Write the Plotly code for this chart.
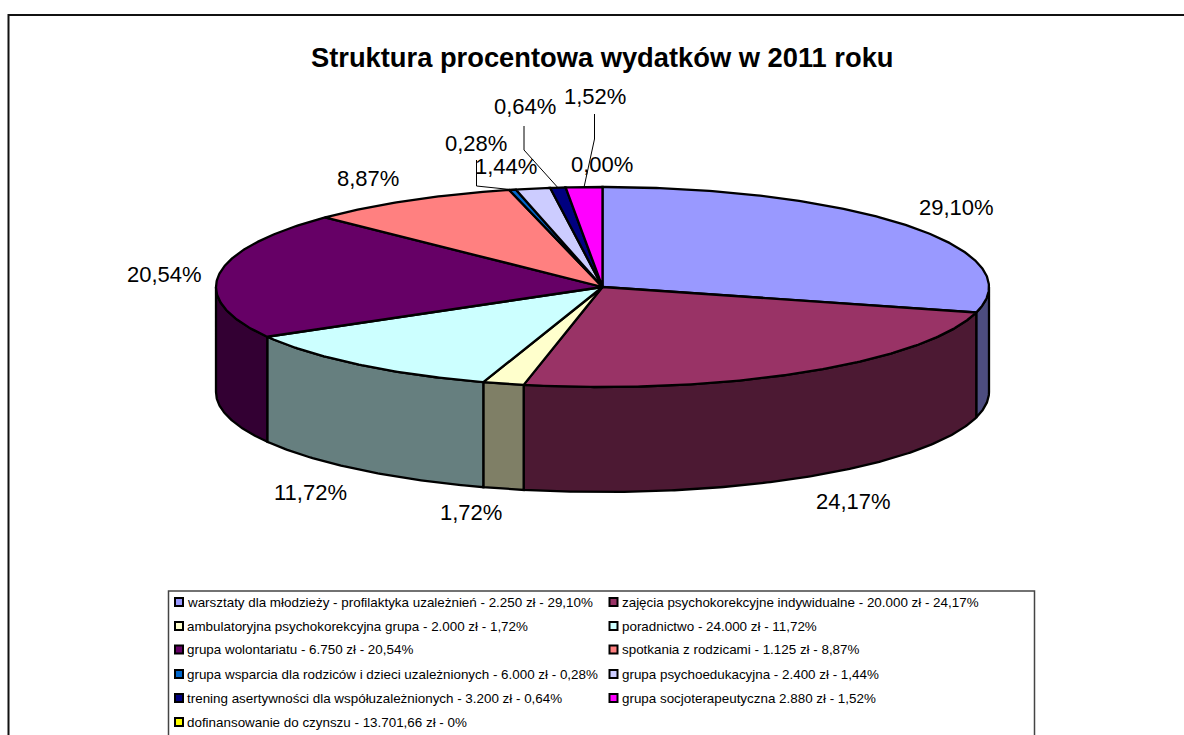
import math
import plotly.graph_objects as go

TITLE = "Struktura procentowa wydatków w 2011 roku"
shares = [29.10, 24.17, 1.72, 11.72, 20.54, 8.87, 0.28, 1.44, 0.64, 1.52, 0.00]
share_labels = ["29,10%", "24,17%", "1,72%", "11,72%", "20,54%", "8,87%", "0,28%", "1,44%", "0,64%", "1,52%", "0,00%"]
legend_labels = [
    "warsztaty dla młodzieży - profilaktyka uzależnień - 2.250 zł - 29,10%",
    "zajęcia psychokorekcyjne indywidualne - 20.000 zł - 24,17%",
    "ambulatoryjna psychokorekcyjna grupa - 2.000 zł - 1,72%",
    "poradnictwo - 24.000 zł - 11,72%",
    "grupa wolontariatu - 6.750 zł - 20,54%",
    "spotkania z rodzicami - 1.125 zł - 8,87%",
    "grupa wsparcia dla rodziców i dzieci uzależnionych - 6.000 zł - 0,28%",
    "grupa psychoedukacyjna - 2.400 zł - 1,44%",
    "trening asertywności dla współuzależnionych - 3.200 zł - 0,64%",
    "grupa socjoterapeutyczna 2.880 zł - 1,52%",
    "dofinansowanie do czynszu - 13.701,66 zł - 0%",
]
top_colors = ["#9999FF", "#993366", "#FFFFCC", "#CCFFFF", "#660066", "#FF8080",
              "#0066CC", "#CCCCFF", "#000080", "#FF00FF", "#FFFF00"]

# layout (page pixels)
CX, CY, RX, RY, DEPTH = 602.5, 287.0, 386.5, 100.0, 105.0
LABEL_POS = [(956.5, 207), (853, 501), (471, 512), (310, 492), (164.5, 274), (367.5, 178),
             (476, 143), (506, 166), (525, 106), (595, 96), (602, 164)]
LEADERS = {6: [(476.5, 160), (476.5, 186)], 8: [(524, 126), (524, 150)], 9: [(594.5, 114), (594.5, 139)]}
LEG_X = [179, 613.5]
LEG_Y = [602, 626, 649.5, 674, 698, 722]
FONT = "Liberation Sans, Arial, sans-serif"


def pt(theta, dz=0.0):
    return CX + RX * math.sin(theta), CY - RY * math.cos(theta) + dz


def arc(a, b, dz=0.0):
    n = max(2, int(abs(b - a) / math.radians(0.5)) + 1)
    return [pt(a + (b - a) * i / (n - 1), dz) for i in range(n)]


def shade(hex_color):
    r, g, b = [int(hex_color[i:i + 2], 16) for i in (1, 3, 5)]
    return f"rgb({r // 2},{g // 2},{b // 2})"


def poly(points, fill, width=2.3):
    return go.Scatter(
        x=[p[0] for p in points], y=[p[1] for p in points], mode="lines",
        fill="toself", fillcolor=fill, line=dict(color="#000000", width=width),
        hoverinfo="skip", showlegend=False)


fig = go.Figure()
total = sum(shares)
angles = [0.0]
for s in shares:
    angles.append(angles[-1] + 2 * math.pi * s / total)

# sides: only the front half of the drum (90..270 degrees) is visible
for i, s in enumerate(shares):
    a = max(angles[i], math.pi / 2)
    b = min(angles[i + 1], 3 * math.pi / 2)
    if b > a:
        fig.add_trace(poly(arc(a, b) + arc(b, a, DEPTH) + [pt(a)], shade(top_colors[i])))

# top faces
for i, s in enumerate(shares):
    if s > 0:
        pts = [(CX, CY)] + arc(angles[i], angles[i + 1]) + [(CX, CY)]
        fig.add_trace(poly(pts, top_colors[i]))

# leader lines, from the label elbow to the slice's rim
for i, elbow in LEADERS.items():
    end = pt((angles[i] + angles[i + 1]) / 2)
    pts = elbow + [end]
    fig.add_trace(go.Scatter(x=[p[0] for p in pts], y=[p[1] for p in pts], mode="lines",
                             line=dict(color="#000000", width=1), hoverinfo="skip", showlegend=False))

ann = [dict(x=602, y=57, text=f"<b>{TITLE}</b>", showarrow=False, xanchor="center", yanchor="middle",
            font=dict(family=FONT, size=27.3, color="#000000"))]
for text, (x, y) in zip(share_labels, LABEL_POS):
    ann.append(dict(x=x, y=y, text=text, showarrow=False, xanchor="center", yanchor="middle",
                    font=dict(family=FONT, size=22, color="#000000")))

# legend: two columns
for k, (text, col) in enumerate(zip(legend_labels, top_colors)):
    x = LEG_X[k % 2]
    y = LEG_Y[k // 2]
    fig.add_trace(go.Scatter(x=[x], y=[y], mode="markers", hoverinfo="skip", showlegend=False,
                             marker=dict(symbol="square", size=8, color=col, line=dict(color="#000000", width=2))))
    ann.append(dict(x=x + 6, y=y, text=text, showarrow=False, xanchor="left", yanchor="middle",
                    font=dict(family=FONT, size=13.4, color="#000000")))

shapes = [
    dict(type="rect", x0=8.5, y0=15, x1=1200, y1=760, line=dict(color="#111111", width=2)),
    dict(type="rect", x0=168.5, y0=591, x1=1034.5, y1=760, line=dict(color="#444444", width=1.5)),
]

fig.update_layout(
    width=1184, height=735, margin=dict(l=0, r=0, t=0, b=0),
    paper_bgcolor="#FFFFFF", plot_bgcolor="#FFFFFF", showlegend=False,
    xaxis=dict(range=[0, 1184], visible=False, fixedrange=True),
    yaxis=dict(range=[735, 0], visible=False, fixedrange=True),
    annotations=ann, shapes=shapes,
)
fig.write_html("out.html", config={"displayModeBar": False},
               post_script="document.body.style.margin='0';document.documentElement.style.overflow='hidden';")
